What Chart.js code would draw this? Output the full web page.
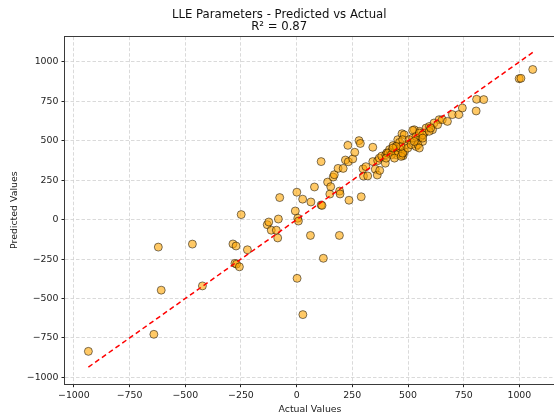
<!DOCTYPE html>
<html>
<head>
<meta charset="utf-8">
<script src="https://cdn.jsdelivr.net/npm/chart.js@4.4.1/dist/chart.umd.min.js"></script>
<style>
html, body { margin: 0; padding: 0; overflow: hidden; background: #fff; width: 554px; height: 419px; }
canvas { display: block; }
</style>
</head>
<body>
<canvas id="c" width="560" height="419"></canvas>
<script>
const titleLines = ['LLE Parameters - Predicted vs Actual', 'R\u00b2 = 0.87'];
const xLabel = 'Actual Values';
const yLabel = 'Predicted Values';
const tickValues = [-1000, -750, -500, -250, 0, 250, 500, 750, 1000];

const actual = [
  -935, -641, -621, -608, -468, -423, -286, -272, -221, -277, -270, -257, -249,
  -132, -125, -114, -91, -85, -82, -76, 1, -6, 5, 8, 2, 28, 62, 192, 120,
  27, 64, 80, 110, 110, 114, 139, 153, 149, 164, 169, 186, 209, 193, 195,
  219, 232, 252, 235, 261, 230, 280, 286, 290, 298, 311, 300, 319,
  342, 342, 353, 364, 362, 373, 371, 382, 398, 400, 405, 417, 429, 440,
  433, 448, 454, 462, 473, 483, 469, 478, 472, 484, 454, 447, 410, 425,
  402, 439, 469, 476, 491, 470, 447, 432, 499, 476, 505, 514, 536, 544,
  566, 559, 551, 528, 573, 610, 581, 596, 617, 640, 521, 521, 536, 551,
  566, 566, 544, 551, 528, 595, 602, 633, 654, 677, 699, 728, 744,
  808, 840, 806, 999, 1007, 1060
];
const predicted = [
  -835, -727, -174, -447, -155, -420, -154, -167, -191, -277, -282, -299, 32,
  -32, -15, -67, -67, -116, 4, 140, 174, 55, 9, -9, -372, -602, -100, -100, -245,
  130, 112, 207, 368, 93, 90, 238, 209, 162, 270, 285, 325, 325, 181, 163,
  378, 367, 385, 123, 427, 471, 501, 483, 145, 322, 336, 276, 277,
  459, 368, 320, 374, 283, 312, 390, 403, 358, 411, 424, 444, 439, 430,
  470, 466, 507, 490, 545, 538, 443, 405, 411, 432, 422, 411, 422, 411,
  390, 390, 401, 422, 475, 464, 464, 454, 454, 507, 507, 475, 464, 507,
  496, 528, 560, 570, 549, 570, 581, 591, 613, 634, 566, 517, 528, 549,
  538, 517, 475, 454, 496, 560, 581, 602, 634, 623, 666, 666, 708,
  763, 761, 689, 894, 896, 952
];

const lo = Math.min(Math.min(...actual), Math.min(...predicted));
const hi = Math.max(Math.max(...actual), Math.max(...predicted));
const perfectLine = [lo, hi];

const FONT = '"DejaVu Sans", "Liberation Sans", sans-serif';
const minusFmt = v => String(v).replace('-', '\u2212');

const spines = {
  id: 'spines',
  afterDatasetsDraw(chart) {
    const a = chart.chartArea, ctx = chart.ctx;
    ctx.save();
    ctx.strokeStyle = '#3a3a3a';
    ctx.lineWidth = 1;
    ctx.strokeRect(Math.round(a.left) - 0.5, Math.round(a.top) - 0.5, a.right - a.left, Math.round(a.bottom) - Math.round(a.top) + 1);
    ctx.restore();
  }
};

function keepTicks(scale) {
  scale.ticks = tickValues.map(v => ({ value: v }));
}

const gridOpts = {
  color: '#d0d0d0',
  lineWidth: 0.8,
  tickColor: '#222',
  tickLength: 3.5,
  tickBorderDash: [],
  tickWidth: 1
};

new Chart(document.getElementById('c'), {
  data: {
    datasets: [
      {
        type: 'line',
        data: perfectLine.map(v => ({ x: v, y: v })),
        borderColor: 'rgb(255,0,0)',
        borderWidth: 1.5,
        borderDash: [5, 3.3],
        pointRadius: 0,
        fill: false
      },
      {
        type: 'scatter',
        data: actual.map((v, i) => ({ x: v, y: predicted[i] })),
        backgroundColor: 'rgba(255,165,0,0.6)',
        borderColor: 'rgba(0,0,0,0.5)',
        borderWidth: 1,
        pointRadius: 4
      }
    ]
  },
  options: {
    responsive: false,
    animation: false,
    devicePixelRatio: 1,
    layout: { padding: { left: 0, right: 1.6, top: 0, bottom: 0 } },
    plugins: {
      legend: { display: false },
      tooltip: { enabled: false },
      title: {
        display: true,
        text: titleLines,
        color: '#111',
        font: { family: FONT, size: 11.7, weight: 'normal', lineHeight: 1.05 },
        padding: { top: 9, bottom: 3.1 }
      }
    },
    scales: {
      x: {
        type: 'linear',
        min: -1040,
        max: 1160,
        afterBuildTicks: keepTicks,
        afterFit(s) { s.height = 35.3; },
        border: { display: false, dash: [3.5, 2] },
        grid: gridOpts,
        ticks: {
          color: '#222',
          padding: 2.5,
          maxRotation: 0,
          font: { family: FONT, size: 9.4 },
          callback: minusFmt
        },
        title: {
          display: true,
          text: xLabel,
          color: '#222',
          font: { family: FONT, size: 9.4 },
          padding: { top: 0, bottom: 3.4 }
        }
      },
      y: {
        type: 'linear',
        min: -1040,
        max: 1160,
        afterBuildTicks: keepTicks,
        afterFit(s) { s.width = 65; },
        border: { display: false, dash: [3.5, 2] },
        grid: gridOpts,
        ticks: {
          color: '#222',
          padding: 3,
          font: { family: FONT, size: 9.4 },
          callback: minusFmt
        },
        title: {
          display: true,
          text: yLabel,
          color: '#222',
          font: { family: FONT, size: 9.4 },
          padding: { top: 9.4, bottom: 0 }
        }
      }
    }
  },
  plugins: [spines]
});
</script>
</body>
</html>
